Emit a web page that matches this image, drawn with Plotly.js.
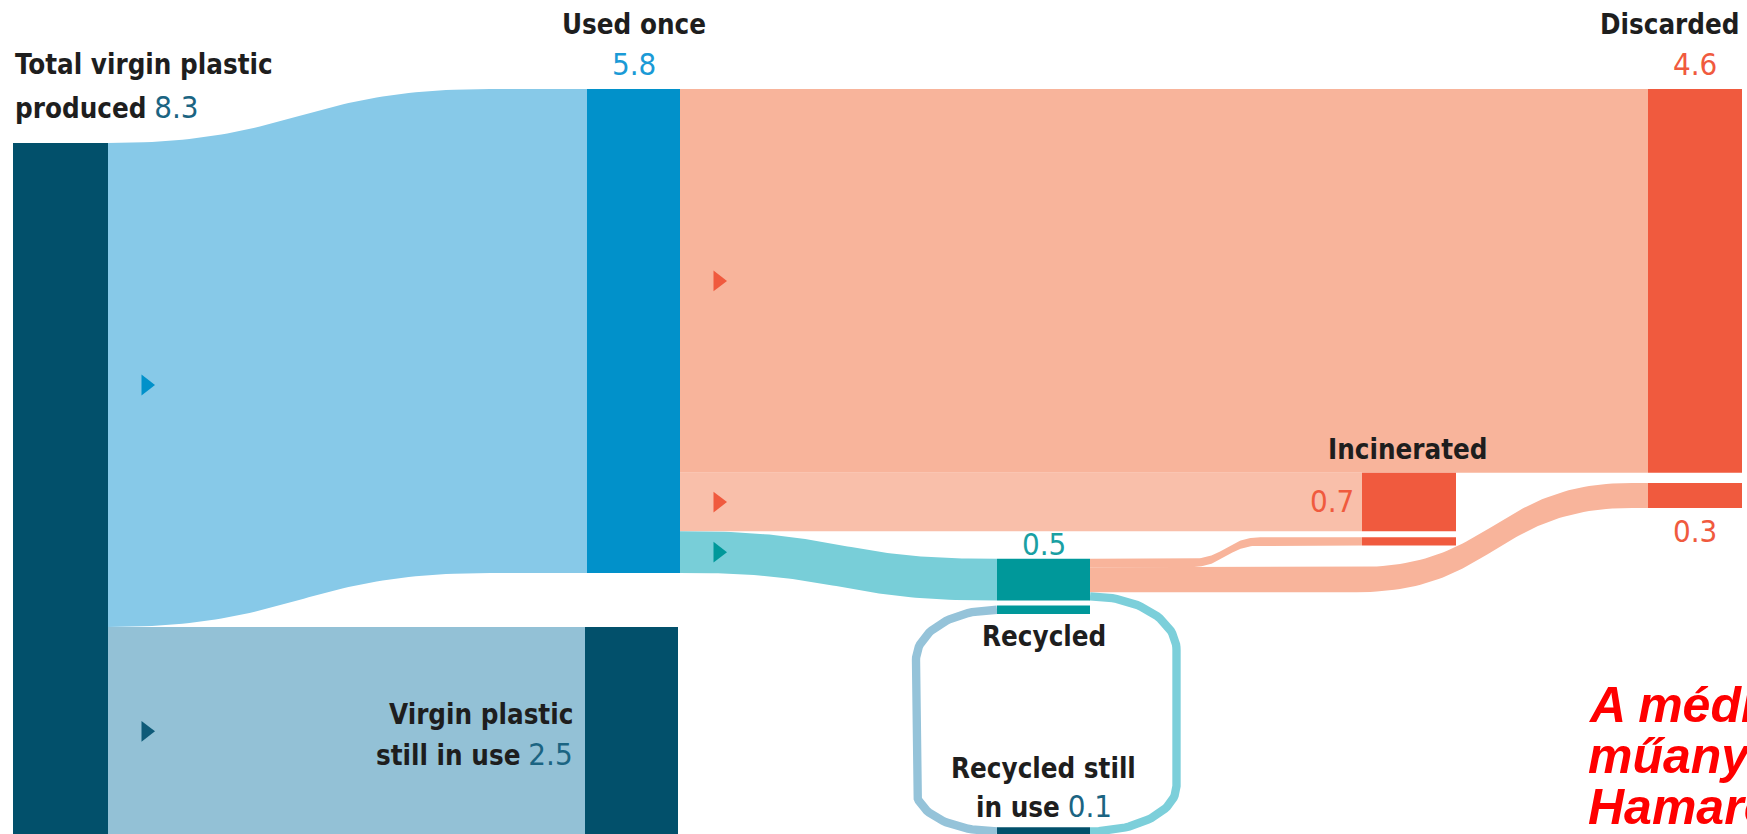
<!DOCTYPE html>
<html>
<head>
<meta charset="utf-8">
<script src="https://cdn.plot.ly/plotly-3.0.1.min.js"></script>
<style>
  html, body { margin: 0; padding: 0; background: #ffffff; overflow: hidden; }
  #chart { width: 1747px; height: 834px; }
</style>
</head>
<body>
<div id="chart"></div>
<script>
// Where the world's plastic has gone, billion tonnes
const stages      = ['Total virgin plastic produced', 'Used once', 'Virgin plastic still in use',
                     'Discarded', 'Incinerated', 'Recycled', 'Recycled still in use'];
const stageTotals = [8.3, 5.8, 2.5, 4.6, 0.7, 0.5, 0.1];

// Flows between stages (indices into stages)
const flowFrom  = [0, 0, 1, 1, 1, 5, 5, 5];
const flowTo    = [1, 2, 3, 4, 5, 4, 3, 6];
const flowValue = [5.8, 2.5, 4.6, 0.7, 0.5, 0.1, 0.3, 0.1];

// ---- drawing set-up -------------------------------------------------------
const W = 1747, H = 834;
const K = 83.45;                 // pixels per billion tonnes
const TOP_PX = 89;               // top of the used-once column
const vTop = -TOP_PX / K;
const vBottom = vTop + H / K;
const px2v = p => vTop + p / K;
const v2px = v => (v - vTop) * K;

// horizontal extents of the columns (x axis runs in pixels)
const COL = {
  total:    [13, 108],
  used:     [587, 680],
  still:    [585, 678],
  recycled: [997, 1090],
  incin:    [1362, 1456],
  disc:     [1648, 1742]
};
const totalDrop = 0.647;   // total column sits lower than the used-once column
const recycledDrop = 0.33; // recycled block sits a little below its incoming band
const incinGap = 0.07, discGap = 0.12, stripGap = 0.06;

const C = {
  navy: '#02506b', blue: '#0191ca', red: '#f05a3e', teal: '#00989a',
  linkBlue: '#87c9e8', linkSteel: '#93c1d6', linkSalmon: '#f8b49b',
  linkSalmonLight: '#f9bfaa', linkTeal: '#78ced8', loopTeal: '#7ccfda', loopSteel: '#95c3d9',
  text: '#1e1e1e', numDark: '#1b6482', numBlue: '#1a9ad6', numTeal: '#1aa0a3'
};

// ---- stack the flows ------------------------------------------------------
const f = i => flowValue[i];
const totalTop = totalDrop;
const totalBottom = totalTop + stageTotals[0];
const seg = [];
seg[0] = { s: [totalTop, totalTop + f(0)], t: [0, f(0)] };
seg[1] = { s: [totalTop + f(0), totalTop + f(0) + f(1)] };
seg[1].t = seg[1].s.slice();
seg[2] = { s: [0, f(2)], t: [0, f(2)] };
seg[3] = { s: [f(2), f(2) + f(3)] };
seg[3].t = seg[3].s.slice();
seg[4] = { s: [f(2) + f(3), f(2) + f(3) + f(4)] };
const recTop = seg[4].s[0] + recycledDrop;
seg[4].t = [recTop, recTop + f(4)];
seg[5] = { s: [recTop, recTop + f(5)], t: [seg[3].t[1] + incinGap, seg[3].t[1] + incinGap + f(5)] };
seg[6] = { s: [seg[5].s[1], seg[5].s[1] + f(6)], t: [seg[2].t[1] + discGap, seg[2].t[1] + discGap + f(6)] };
seg[7] = { s: [seg[6].s[1], seg[6].s[1] + f(7)], t: [totalBottom - f(7), totalBottom] };
const recBottom = recTop + stageTotals[5];
const strip = [recBottom + stripGap, recBottom + stripGap + stageTotals[6]];

// ---- helpers --------------------------------------------------------------
function edge(x0, x1, cx0, cx1, a, b, n = 60) {
  const pts = [[x0, a]];
  const w = cx1 - cx0;
  for (let i = 0; i <= n; i++) {
    const t = i / n, u = 1 - t;
    const bx = u*u*u*cx0 + 3*u*u*t*(cx0 + w/2) + 3*u*t*t*(cx1 - w/2) + t*t*t*cx1;
    const by = (u*u*u + 3*u*u*t) * a + (3*u*t*t + t*t*t) * b;
    pts.push([bx, by]);
  }
  pts.push([x1, b]);
  return pts;
}
function band(i, x0, x1, cx0, cx1, color) {
  const up = edge(x0, x1, cx0, cx1, seg[i].s[0], seg[i].t[0]);
  const lo = edge(x0, x1, cx0, cx1, seg[i].s[1], seg[i].t[1]).reverse();
  const pts = up.concat(lo);
  pts.push(up[0]);
  return {
    type: 'scatter', mode: 'lines', x: pts.map(p => p[0]), y: pts.map(p => p[1]),
    fill: 'toself', fillcolor: color, line: { width: 0, color: color },
    hoverinfo: 'skip', showlegend: false
  };
}
function block(xs, ys, color) {
  return {
    type: 'scatter', mode: 'lines',
    x: [xs[0], xs[1], xs[1], xs[0], xs[0]], y: [ys[0], ys[0], ys[1], ys[1], ys[0]],
    fill: 'toself', fillcolor: color, line: { width: 0, color: color },
    hoverinfo: 'skip', showlegend: false
  };
}
function quarter(cx, cy, rx, ry, a0, a1, n = 30) {
  const pts = [];
  for (let i = 0; i <= n; i++) {
    const a = a0 + (a1 - a0) * i / n;
    pts.push([cx + rx * Math.cos(a), cy + ry * Math.sin(a)]);
  }
  return pts;
}
function pathTrace(pts, color, widthPx) {
  return {
    type: 'scatter', mode: 'lines', x: pts.map(p => p[0]), y: pts.map(p => px2v(p[1])),
    line: { width: widthPx, color: color }, hoverinfo: 'skip', showlegend: false
  };
}

// ---- links ----------------------------------------------------------------
const traces = [];
traces.push(band(0, COL.total[1], COL.used[0], COL.total[1], 490, C.linkBlue));
traces.push(band(1, COL.total[1], COL.still[0], COL.total[1], COL.still[0], C.linkSteel));
traces.push(band(2, COL.used[1], COL.disc[0], COL.used[1], COL.disc[0], C.linkSalmon));
traces.push(band(3, COL.used[1], COL.incin[0], COL.used[1], COL.incin[0], C.linkSalmonLight));
traces.push(band(4, COL.used[1], COL.recycled[0], 690, 990, C.linkTeal));
traces.push(band(5, COL.recycled[1], COL.incin[0], 1190, 1262, C.linkSalmon));
traces.push(band(6, COL.recycled[1], COL.disc[0], 1357, 1632, C.linkSalmon));

// recycled material looping back into use
const loopW = f(7) * K;
const rx = 86.5, lx = 81;
const rStart = v2px((seg[7].s[0] + seg[7].s[1]) / 2);
const lStart = v2px((strip[0] + strip[1]) / 2);
const loopEnd = v2px((seg[7].t[0] + seg[7].t[1]) / 2);
const rTurn = 650, rDown = 786, lTurn = 660, lDown = 790;
const right = []
  .concat(quarter(COL.recycled[1], rTurn, rx, rTurn - rStart, -Math.PI / 2, 0))
  .concat(quarter(COL.recycled[1], rDown, rx, loopEnd - rDown, 0, Math.PI / 2));
const left = []
  .concat(quarter(COL.recycled[0], lTurn, lx, lTurn - lStart, -Math.PI / 2, -Math.PI))
  .concat(quarter(COL.recycled[0], lDown, lx, loopEnd - lDown, Math.PI, Math.PI / 2));
traces.push(pathTrace(left, C.loopSteel, loopW));
traces.push(pathTrace(right, C.loopTeal, loopW));

// ---- nodes ----------------------------------------------------------------
traces.push(block(COL.total, [totalTop, totalBottom], C.navy));
traces.push(block(COL.used, [0, stageTotals[1]], C.blue));
traces.push(block(COL.still, seg[1].t, C.navy));
traces.push(block(COL.disc, [0, stageTotals[3]], C.red));
traces.push(block(COL.disc, seg[6].t, C.red));
traces.push(block(COL.incin, seg[3].t, C.red));
traces.push(block(COL.incin, seg[5].t, C.red));
traces.push(block(COL.recycled, [recTop, recBottom], C.teal));
traces.push(block(COL.recycled, strip, C.teal));
traces.push(block(COL.recycled, seg[7].t, C.navy));

// direction arrows at the middle of the main bands
const arrowIdx = [0, 1, 2, 3, 4];
const arrowColors = [C.blue, '#0e5a78', C.red, C.red, C.teal];
traces.push({
  type: 'scatter', mode: 'markers',
  x: arrowIdx.map(i => (flowFrom[i] === 0 ? COL.total[1] : COL.used[1]) + 38),
  y: arrowIdx.map(i => (seg[i].s[0] + seg[i].s[1]) / 2),
  marker: { symbol: 'triangle-right', size: 18, color: arrowColors, line: { width: 0 } },
  hoverinfo: 'skip', showlegend: false
});

// ---- labels ---------------------------------------------------------------
const FONT = '"Liberation Sans Narrow", "DejaVu Sans Condensed", "Roboto Condensed", "Liberation Sans", sans-serif';
const LABEL_SIZE = 27.5, NUM_SIZE = 31;
const num = (v, c) => `<span style="font-size:${NUM_SIZE}px;color:${c}">${v.toFixed(1)}</span>`;
function label(text, x, yPx, anchor, opts = {}) {
  return {
    text: text, x: x, y: px2v(yPx), xref: 'x', yref: 'y',
    xanchor: anchor, yanchor: 'middle', showarrow: false, align: anchor === 'center' ? 'center' : anchor,
    font: Object.assign({ family: FONT, size: LABEL_SIZE, color: C.text }, opts)
  };
}
const value = (v, c, x, yPx, anchor) => label(v.toFixed(1), x, yPx, anchor, { size: NUM_SIZE, color: c });
const mid = c => (c[0] + c[1]) / 2;
const NOTE = { family: '"Liberation Sans", Arial, sans-serif', size: 50, color: '#ff0000' };
const annotations = [
  label('<b>Total virgin plastic</b>', COL.total[0], 64, 'left'),
  label('<b>produced</b> ' + num(stageTotals[0], C.numDark), COL.total[0], 107, 'left'),
  label('<b>' + stages[1] + '</b>', mid(COL.used), 24, 'center'),
  value(stageTotals[1], C.numBlue, mid(COL.used), 64, 'center'),
  label('<b>' + stages[3] + '</b>', COL.disc[1], 24, 'right'),
  value(stageTotals[3], C.red, mid(COL.disc), 64, 'center'),
  label('<b>' + stages[4] + '</b>', 1408, 449, 'center'),
  value(stageTotals[4], C.red, COL.incin[0] - 6, 501, 'right'),
  value(f(6), C.red, mid(COL.disc), 531, 'center'),
  value(stageTotals[5], C.numTeal, mid(COL.recycled), 544, 'center'),
  label('<b>' + stages[5] + '</b>', mid(COL.recycled), 636, 'center'),
  label('<b>Virgin plastic</b>', COL.still[0] - 10, 714, 'right'),
  label('<b>still in use</b> ' + num(stageTotals[2], C.numDark), COL.still[0] - 10, 754, 'right'),
  label('<b>Recycled still</b>', mid(COL.recycled), 768, 'center'),
  label('<b>in use</b> ' + num(stageTotals[6], C.numDark), mid(COL.recycled), 806, 'center'),
  label('<b><i>A média</i></b>', 1586, 705, 'left', NOTE),
  label('<b><i>műanyag</i></b>', 1586, 756, 'left', NOTE),
  label('<b><i>Hamarosan</i></b>', 1586, 807, 'left', NOTE)
];

const layout = {
  width: W, height: H,
  margin: { l: 0, r: 0, t: 0, b: 0, pad: 0 },
  paper_bgcolor: '#ffffff', plot_bgcolor: '#ffffff',
  xaxis: { range: [0, W], visible: false, fixedrange: true },
  yaxis: { range: [vBottom, vTop], visible: false, fixedrange: true },
  showlegend: false,
  annotations: annotations
};

Plotly.newPlot('chart', traces, layout, { staticPlot: true, displayModeBar: false });
</script>
</body>
</html>
